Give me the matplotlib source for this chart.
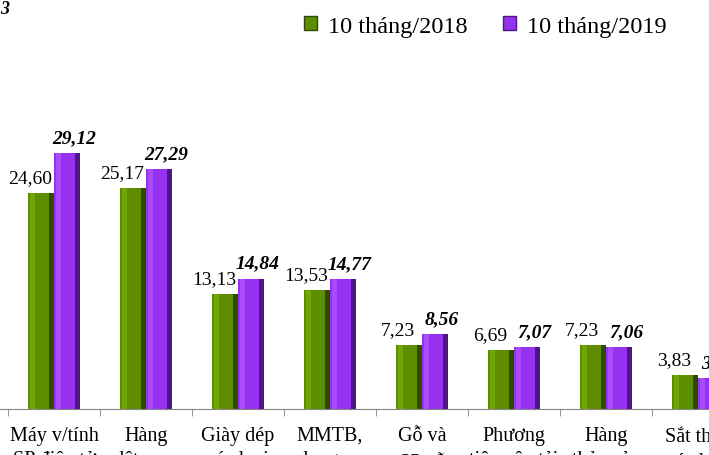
import matplotlib
matplotlib.use('Agg')
import matplotlib.pyplot as plt
from matplotlib.patches import Patch

plt.rcParams['font.family'] = ['Liberation Serif', 'DejaVu Serif']

# Data (billion USD), 10 months 2018 vs 10 months 2019
categories = ['Máy v/tính\nSP điện tử', 'Hàng\ndệt may', 'Giày dép\ncác loại', 'MMTB,\ndụng cụ',
              'Gỗ và\nSP gỗ', 'Phương\ntiện vận tải', 'Hàng\nthủy sản', 'Sắt thép\ncác loại']
vals_2018 = [24.60, 25.17, 13.13, 13.53, 7.23, 6.69, 7.23, 3.83]
vals_2019 = [29.12, 27.29, 14.84, 14.77, 8.56, 7.07, 7.06, 3.50]
series_names = ['10 tháng/2018', '10 tháng/2019']

green = '#5E8E00'
green_light = '#6FA608'
green_dark = '#2F4A00'
purple = '#9631F0'
purple_light = '#A94BFF'
purple_dark = '#4C1780'

W, H = 709, 456
fig = plt.figure(figsize=(W / 100, H / 100), dpi=100)
ax = fig.add_axes([0, 46 / H, 1, 410 / H])

step = 92.0  # px per category
x0 = -0.5 - 8 / step
ax.set_xlim(x0, x0 + W / step)
ax.set_ylim(0, 410 / 8.79)

bw = 26 / step


def bar3d(xc, vals, main, light, dark):
    ax.bar(xc, vals, bw, color=dark, linewidth=0)
    ax.bar([x - bw * 0.1 for x in xc], vals, bw * 0.8, color=main, linewidth=0)
    ax.bar([x - bw * 0.32 for x in xc], vals, bw * 0.2, color=light, linewidth=0)


idx = list(range(len(categories)))
xg = [i - bw / 2 for i in idx]
xp = [i + bw / 2 for i in idx]
bar3d(xg, vals_2018, green, green_light, green_dark)
bar3d(xp, vals_2019, purple, purple_light, purple_dark)

for x, v in zip(xg, vals_2018):
    ax.annotate(f'{v:.2f}'.replace('.', ','), xy=(x, v), xytext=(-8, 5),
                textcoords='offset points', ha='center', va='bottom', fontsize=14,
                annotation_clip=False)
for x, v in zip(xp, vals_2019):
    ax.annotate(f'{v:.2f}'.replace('.', ','), xy=(x, v), xytext=(5, 5),
                textcoords='offset points', ha='center', va='bottom', fontsize=14,
                fontweight='bold', style='italic', annotation_clip=False)

for s in ['top', 'left', 'right']:
    ax.spines[s].set_visible(False)
ax.spines['bottom'].set_color('#868686')
ax.set_yticks([])
ax.set_xticks(idx)
ax.set_xticklabels(categories, fontsize=14.5, linespacing=1.4)
ax.set_xticks([i - 0.5 for i in idx], minor=True)
ax.tick_params(axis='x', which='major', length=0, pad=12)
ax.tick_params(axis='x', which='minor', length=5, color='#868686')

handles = [Patch(facecolor=green, edgecolor=green_dark), Patch(facecolor=purple, edgecolor=purple_dark)]
fig.legend(handles, series_names, loc='center left', bbox_to_anchor=(304 / W, 1 - 27 / H),
           ncol=2, frameon=False, fontsize=17.5, handlelength=0.55, handleheight=0.55,
           handletextpad=0.45, columnspacing=1.45, borderpad=0, borderaxespad=0)

fig.text(0.0, 1 - 1 / H, '3', fontsize=13, fontweight='bold', style='italic', va='top', ha='left')

plt.savefig('out.png', dpi=100)
